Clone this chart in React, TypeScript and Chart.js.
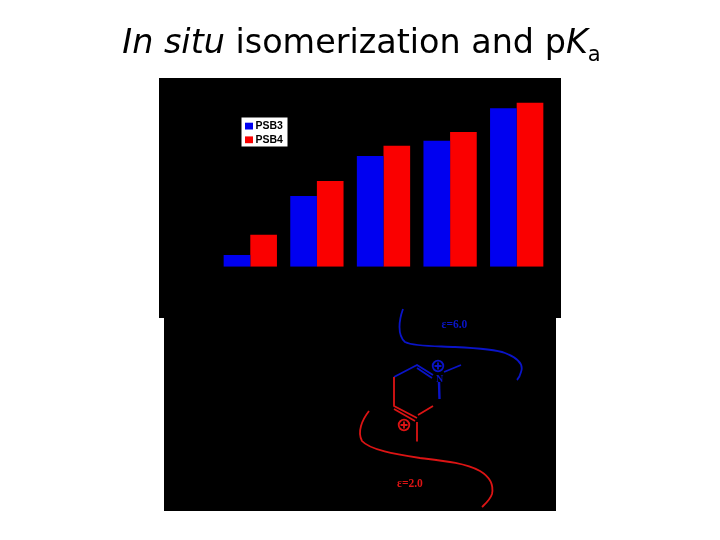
import React, { useEffect, useRef } from "react";
import { Chart, registerables } from "chart.js";

Chart.register(...registerables);

const categories = ["A", "B", "C", "D", "E"];
const psb3Values = [0.35, 2.12, 3.32, 3.78, 4.75];
const psb4Values = [0.96, 2.57, 3.63, 4.04, 4.92];
const seriesLabels = ["PSB3", "PSB4"];
const BLUE = "#0000f0";
const RED = "#fa0000";

const decorPlugin = {
  id: "decor",
  beforeDraw(chart: any) {
    const c = chart.ctx;
    c.save();
    c.fillStyle = "#000";
    c.fillRect(159, 78, 402, 240);
    c.fillRect(164, 318, 392, 193);
    c.restore();
  },
  afterDraw(chart: any) {
    const c = chart.ctx;
    c.save();
    c.fillStyle = "#fff";
    c.fillRect(241.5, 117.5, 46, 29);
    c.font = "bold 10.5px 'Liberation Sans'";
    c.textBaseline = "middle";
    chart.data.datasets.forEach((d: any, i: number) => {
      const y = 126 + i * 13.7;
      c.fillStyle = d.backgroundColor;
      c.fillRect(245, y - 3.3, 8, 6.8);
      c.fillStyle = "#000";
      c.fillText(d.label, 255.5, y + 0.3);
    });
    c.restore();
  },
};

export default function App() {
  const ref = useRef<HTMLCanvasElement>(null);
  useEffect(() => {
    const chart = new Chart(ref.current!, {
      type: "bar",
      data: {
        labels: categories,
        datasets: [
          { label: seriesLabels[0], data: psb3Values, backgroundColor: BLUE },
          { label: seriesLabels[1], data: psb4Values, backgroundColor: RED },
        ],
      },
      options: {
        responsive: false,
        animation: false,
        layout: { padding: { left: 217, right: 170, top: 66.7, bottom: 273.3 } },
        datasets: { bar: { barPercentage: 1, categoryPercentage: 0.8 } },
        scales: {
          x: { display: false },
          y: { display: false, min: 0, max: 6 },
        },
        plugins: { legend: { display: false }, tooltip: { enabled: false } },
      },
      plugins: [decorPlugin],
    } as any);
    return () => chart.destroy();
  }, []);

  return (
    <div style={{ position: "fixed", left: 0, top: 0, width: 720, height: 540, background: "#fff", overflow: "hidden" }}>
      <canvas ref={ref} width={720} height={540} style={{ position: "absolute", left: 0, top: 0, width: 720, height: 540 }} />
      <div
        style={{
          position: "absolute",
          left: 0,
          width: 723,
          top: 22,
          textAlign: "center",
          whiteSpace: "nowrap",
          fontFamily: "'DejaVu Sans'",
          fontSize: 33.4,
          lineHeight: "40px",
          color: "#000",
        }}
      >
        <i>In situ</i> isomerization and p<i>K</i>
        <sub style={{ fontSize: 21, lineHeight: 0 }}>a</sub>
      </div>
      <svg width={720} height={540} viewBox="0 0 720 540" style={{ position: "absolute", left: 0, top: 0 }}>
        <g fill="none" stroke="#0a14c8" strokeWidth={1.8}>
          <path d="M403 309 C399 320 397 335 405 342 C415 347 440 346 455 347 C475 348 495 349 505 353 C518 358 524 364 521 372 C520 376 519 378 517 380" />
          <path d="M394 377 L417 365 L433 375" />
          <path d="M417 368 L432 378" />
          <path d="M444 372 L461 365" />
          <path d="M439 382 L439.5 399" strokeWidth={2.4} />
          <circle cx={438} cy={366} r={5.3} />
          <path d="M434.5 366 H441.5 M438 362.5 V369.5" />
        </g>
        <g fill="none" stroke="#dc1414" strokeWidth={1.8}>
          <path d="M369 411 C362 420 357 432 362 441 C370 450 395 454 420 458 C445 461 465 463 480 471 C490 477 494 484 492 494 C490 500 485 504 482 507" />
          <path d="M394 377 V406 L417 418" />
          <path d="M394 409 L415 421" />
          <path d="M418 415 L433 406" />
          <path d="M417 422 V441.5" />
          <circle cx={404} cy={425} r={5.3} />
          <path d="M400.5 425 H407.5 M404 421.5 V428.5" />
        </g>
        <text x={436} y={382} fill="#0a14c8" fontFamily="'Liberation Serif'" fontWeight="bold" fontSize={10}>N</text>
        <text x={441.5} y={328} fill="#0a14c8" fontFamily="'Liberation Serif'" fontWeight="bold" fontSize={11.5}>ε=6.0</text>
        <text x={397} y={487} fill="#dc1414" fontFamily="'Liberation Serif'" fontWeight="bold" fontSize={11.5}>ε=2.0</text>
      </svg>
    </div>
  );
}
